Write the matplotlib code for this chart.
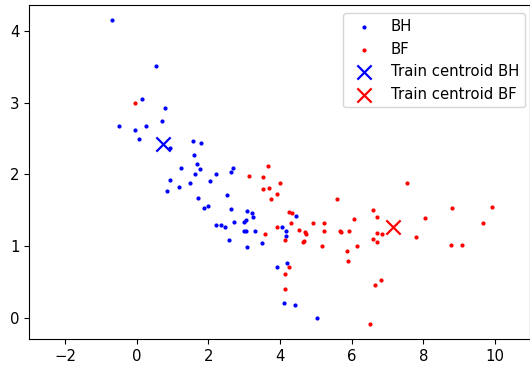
import matplotlib
matplotlib.use("Agg")
import matplotlib.pyplot as plt

# BH samples (x, y)
bh_x = [-0.68, 0.53, 0.14, 0.78, -0.49, -0.04, 0.26, 0.69, 0.06, 0.94,
        1.56, 1.78, 1.60, 1.68, 1.75, 1.24, 1.63, 2.20, 2.68, 2.63,
        2.05, 0.93, 1.49, 1.18, 0.84, 1.72, 2.51, 1.99, 1.87, 2.62,
        3.08, 3.21, 3.25, 3.05, 2.98, 2.72, 2.20, 2.35, 2.47, 2.99,
        3.05, 3.30, 2.57, 3.07, 3.48, 4.44, 4.05, 4.17, 4.17, 3.92,
        4.20, 4.11, 4.42, 5.02]
bh_y = [4.15, 3.51, 3.05, 2.93, 2.68, 2.62, 2.68, 2.74, 2.49, 2.36,
        2.47, 2.44, 2.27, 2.15, 2.07, 2.09, 2.00, 2.00, 2.09, 2.03,
        1.91, 1.92, 1.88, 1.83, 1.77, 1.67, 1.71, 1.56, 1.53, 1.51,
        1.49, 1.46, 1.41, 1.37, 1.34, 1.33, 1.30, 1.30, 1.26, 1.21,
        1.21, 1.21, 1.09, 0.99, 1.04, 1.42, 1.26, 1.21, 1.14, 0.71,
        0.76, 0.21, 0.18, 0.00]

# BF samples (x, y)
bf_x = [-0.05, 3.12, 3.51, 3.65, 3.53, 3.68, 3.59, 3.99, 3.92, 3.75,
        5.60, 4.26, 4.33, 4.30, 4.92, 5.23, 3.92, 4.52, 4.69, 4.73,
        5.23, 5.67, 5.70, 4.14, 4.68, 4.63, 5.16, 4.25, 4.14, 4.14,
        7.55, 6.60, 6.69, 6.05, 8.05, 5.93, 6.69, 6.84, 6.60, 6.69,
        7.78, 6.14, 5.87, 5.90, 6.81, 6.65, 6.52, 8.81, 9.92, 9.66,
        8.77, 9.08]
bf_y = [3.00, 1.97, 1.96, 2.11, 1.79, 1.81, 1.17, 1.88, 1.72, 1.65,
        1.65, 1.47, 1.46, 1.32, 1.32, 1.32, 1.27, 1.23, 1.20, 1.17,
        1.21, 1.21, 1.20, 1.08, 1.07, 1.05, 1.00, 0.71, 0.61, 0.40,
        1.88, 1.50, 1.41, 1.38, 1.39, 1.21, 1.18, 1.17, 1.10, 1.06,
        1.13, 1.00, 0.93, 0.79, 0.52, 0.46, -0.09, 1.53, 1.55, 1.32,
        1.02, 1.02]

# Training centroids
centroid_bh = (0.74, 2.42)
centroid_bf = (7.16, 1.26)

x_ticks = [-2, 0, 2, 4, 6, 8, 10]
y_ticks = [0, 1, 2, 3, 4]

plt.rcParams["font.size"] = 10.7

fig = plt.figure(figsize=(5.3, 3.69), dpi=100)
ax = fig.add_axes([0.0553, 0.0805, 0.9438, 0.9059])

ax.scatter(bh_x, bh_y, s=4, color="blue", label="BH")
ax.scatter(bf_x, bf_y, s=4, color="red", label="BF")
ax.scatter([centroid_bh[0]], [centroid_bh[1]], marker="x", s=105,
           linewidths=1.6, color="blue", label="Train centroid BH")
ax.scatter([centroid_bf[0]], [centroid_bf[1]], marker="x", s=105,
           linewidths=1.6, color="red", label="Train centroid BF")

ax.set_xlim(-3.0, 10.96)
ax.set_ylim(-0.30, 4.36)
ax.set_xticks(x_ticks)
ax.set_yticks(y_ticks)
ax.legend(loc="upper right", borderaxespad=0,
          bbox_to_anchor=(525 / 530, 1 - 13.3 / 369),
          bbox_transform=fig.transFigure)

fig.savefig("out.png", dpi=100)
